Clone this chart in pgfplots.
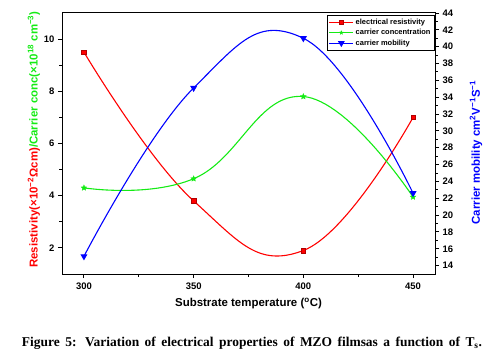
\documentclass[border=0pt]{standalone}
\usepackage{pgfplots}
\pgfplotsset{compat=1.18}
\usepackage{fontspec}
\setmainfont{Liberation Sans}
\newfontfamily\seriffont{Liberation Serif}
\definecolor{myred}{RGB}{255,0,0}
\definecolor{mygreen}{RGB}{20,235,20}
\definecolor{myblue}{RGB}{0,0,255}
\pgfdeclareplotmark{fstar}{%
  \pgfpathmoveto{\pgfpointpolar{90}{\pgfplotmarksize}}%
  \pgfpathlineto{\pgfpointpolar{126}{0.45\pgfplotmarksize}}%
  \pgfpathlineto{\pgfpointpolar{162}{\pgfplotmarksize}}%
  \pgfpathlineto{\pgfpointpolar{198}{0.45\pgfplotmarksize}}%
  \pgfpathlineto{\pgfpointpolar{234}{\pgfplotmarksize}}%
  \pgfpathlineto{\pgfpointpolar{270}{0.45\pgfplotmarksize}}%
  \pgfpathlineto{\pgfpointpolar{306}{\pgfplotmarksize}}%
  \pgfpathlineto{\pgfpointpolar{342}{0.45\pgfplotmarksize}}%
  \pgfpathlineto{\pgfpointpolar{18}{\pgfplotmarksize}}%
  \pgfpathlineto{\pgfpointpolar{54}{0.45\pgfplotmarksize}}%
  \pgfpathclose
  \pgfusepathqfillstroke}
\pgfplotsset{
  base/.style={
    width=373bp, height=261bp, scale only axis,
    xmin=290, xmax=460,
    tick align=outside,
    major tick length=4bp, minor tick length=2.5bp,
    every tick/.style={black, line width=0.9pt},
    axis line style={line width=1pt},
    /pgf/number format/assume math mode=true,
    ticklabel style={font=\bfseries\fontsize{9.5}{11}\selectfont},
    label style={font=\bfseries\fontsize{11.5}{13}\selectfont},
  },
  resplot/.style={myred, line width=1.1pt, mark=square*, mark size=2.3pt, mark options={fill=myred, draw=myred!70!black, line width=0.5pt}},
  concplot/.style={mygreen, line width=1.1pt, mark=fstar, mark size=3pt, mark options={fill=mygreen, draw=mygreen, line width=0.3pt}},
  mobplot/.style={myblue, line width=1.1pt, mark=triangle*, mark size=3pt, mark options={fill=myblue, draw=myblue, rotate=180}},
}
\begin{document}
\begin{tikzpicture}
\begin{axis}[base,
  ymin=1, ymax=11,
  xtick={300,350,400,450}, minor x tick num=1,
  ytick={2,4,6,8,10}, minor y tick num=1,
  xtick pos=bottom, ytick pos=left,
  xlabel={Substrate temperature (\textsuperscript{o}C)},
  ylabel={\textcolor{myred}{Resistivity(×10\textsuperscript{−2}Ωcm)}\textcolor{mygreen}{/Carrier conc(×10\textsuperscript{18} cm\textsuperscript{−3})}},
  ylabel style={yshift=-3bp, xshift=4bp},
  xlabel style={yshift=-2bp},
  xticklabel style={yshift=-1bp},
]
\addplot[resplot, smooth, tension=0.75] coordinates {(300,9.5) (350,3.8) (400,1.9) (450,7.0)};
\addplot[concplot, smooth, tension=0.75] coordinates {(300,4.3) (350,4.65) (400,7.8) (450,3.95)};
\end{axis}
\begin{axis}[base,
  ymin=13, ymax=44,
  axis x line=none, axis y line*=right,
  ytick={14,16,...,44}, minor y tick num=1,
  ylabel={\textcolor{myblue}{Carrier mobility cm\textsuperscript{2}V\textsuperscript{−1}S\textsuperscript{−1}}},
  ylabel style={xshift=-9bp, yshift=-10bp},
  legend style={at={(rel axis cs:0.998,0.992)}, anchor=north east, draw=black, line width=0.6pt,
    font=\bfseries\fontsize{7.5}{9}\selectfont, inner sep=1.5pt, row sep=-0.5pt, fill=white},
  legend cell align=left,
  legend image code/.code={\draw[mark repeat=2, mark phase=2, line width=1pt] plot coordinates {(0cm,0cm) (0.42cm,0cm) (0.84cm,0cm)};},
]
\addlegendimage{resplot, mark size=1.6pt}
\addlegendentry{electrical resistivity}
\addlegendimage{concplot, mark size=2pt}
\addlegendentry{carrier concentration}
\addplot[mobplot, smooth, tension=0.75] coordinates {(300,15.1) (350,35.1) (400,41.0) (450,22.6)};
\addlegendentry{carrier mobility}
\end{axis}
\node[font=\seriffont\bfseries\fontsize{13.5}{15}\selectfont] at (190bp,-69bp) {\makebox[460bp][s]{Figure 5: Variation of electrical properties of MZO filmsas a function of T\textsubscript{s}.}};
\pgfresetboundingbox
\path (-62bp,-80bp) rectangle (436bp,274bp);
\end{tikzpicture}
\end{document}
